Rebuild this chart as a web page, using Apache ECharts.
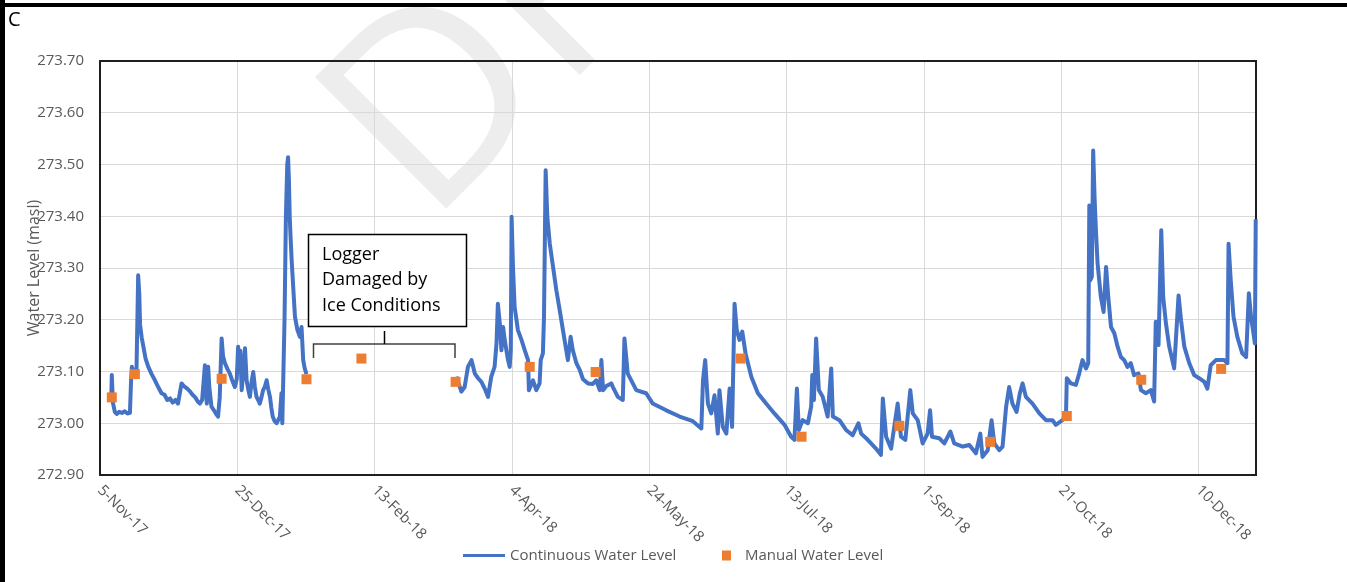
<!DOCTYPE html>
<html>
<head>
<meta charset="utf-8">
<script src="https://cdn.jsdelivr.net/npm/echarts@6/dist/echarts.min.js"></script>
<style>
  html, body { margin: 0; padding: 0; background: #ffffff; }
  #chart { width: 1347px; height: 582px; }
</style>
</head>
<body>
<div id="chart"></div>
<script>
// x values are days counted from 5-Nov-17
const tickLabels = ['5-Nov-17', '25-Dec-17', '13-Feb-18', '4-Apr-18', '24-May-18',
                    '13-Jul-18', '1-Sep-18', '21-Oct-18', '10-Dec-18'];
const tickStepDays = 50;
const lastDay = 421;                 // 31-Dec-18
const levelTicks = [272.9, 273.7, 0.1];

// Logger record, Nov-17 to Jan-18 (before the logger was damaged)
const loggerDaysA = [
  4.1, 4.3, 4.7, 5.4, 6.1, 7.0, 8.0, 9.0, 10.0, 10.9, 11.3, 11.6, 12.2, 12.8, 13.3, 13.9,
  14.3, 14.6, 15.2, 15.8, 16.6, 17.6, 18.8, 20.0, 21.2, 22.4, 23.5, 24.5, 25.5, 26.5, 27.5,
  28.4, 29.1, 29.7, 30.5, 31.5, 32.7, 33.7, 34.7, 35.6, 36.4, 37.2, 38.2, 38.6, 38.9, 39.4,
  39.8, 40.6, 41.5, 42.3, 43.0, 43.6, 44.3, 44.8, 45.5, 46.4, 47.3, 48.2, 49.1, 49.8, 50.3,
  50.7, 51.1, 51.6, 52.2, 52.8, 53.4, 54.0, 54.6, 55.2, 55.8, 56.4, 57.0, 57.6, 58.2, 58.8,
  59.4, 60.0, 60.7, 61.3, 61.9, 62.4, 62.9, 63.6, 64.3, 64.9, 65.5, 66.1, 66.4, 66.7, 67.2,
  67.7, 68.2, 68.5, 68.8, 69.1, 69.4, 69.8, 70.4, 71.0, 71.9, 72.8, 73.4, 74.0, 74.6, 75.2
];
const loggerLevelsA = [
  273.050, 273.093, 273.040, 273.022, 273.018, 273.022, 273.020, 273.023, 273.019, 273.020,
  273.080, 273.109, 273.100, 273.095, 273.105, 273.286, 273.250, 273.190, 273.165, 273.148,
  273.125, 273.109, 273.095, 273.083, 273.070, 273.058, 273.055, 273.045, 273.048, 273.040,
  273.045, 273.038, 273.040, 273.077, 273.072, 273.068, 273.062, 273.055, 273.050, 273.042,
  273.038, 273.045, 273.112, 273.060, 273.038, 273.109, 273.070, 273.032, 273.025, 273.018,
  273.013, 273.050, 273.164, 273.130, 273.116, 273.105, 273.096, 273.082, 273.070, 273.085,
  273.148, 273.100, 273.140, 273.064, 273.100, 273.145, 273.083, 273.065, 273.051, 273.080,
  273.099, 273.070, 273.051, 273.045, 273.038, 273.050, 273.064, 273.070, 273.083, 273.065,
  273.051, 273.030, 273.013, 273.004, 273.000, 273.006, 273.013, 273.058, 273.000, 273.000,
  273.200, 273.399, 273.500, 273.514, 273.470, 273.399, 273.360, 273.315, 273.260, 273.206,
  273.180, 273.167, 273.186, 273.122, 273.105, 273.095
];

// Logger record, Mar-18 to Dec-18 (after replacement)
const loggerDaysB = [
  129.8, 131.6, 132.8, 134.0, 135.3, 136.5, 137.7, 138.9, 140.1, 141.3, 142.5, 143.7, 144.4,
  144.9, 145.6, 146.2, 146.8, 147.4, 148.0, 148.6, 149.2, 149.6, 149.9, 150.4, 151.0, 152.2,
  153.5, 154.7, 155.9, 156.2, 157.7, 158.9, 160.1, 160.5, 161.3, 161.7, 162.3, 162.9, 163.8,
  165.0, 166.2, 167.4, 168.6, 169.8, 170.4, 171.4, 172.2, 173.5, 174.7, 175.9, 177.7, 179.5,
  180.7, 182.0, 182.6, 183.2, 184.4, 186.2, 186.8, 188.6, 190.4, 191.0, 192.2, 195.3, 198.9,
  201.3, 206.2, 211.1, 215.9, 219.0, 219.6, 220.4, 221.4, 222.6, 223.8, 225.0, 225.6, 226.8,
  228.1, 229.3, 230.2, 231.1, 231.9, 232.9, 233.9, 235.1, 237.2, 239.6, 242.6, 245.6, 249.3,
  251.7, 252.9, 253.8, 254.5, 255.9, 257.8, 259.0, 259.4, 260.0, 260.8, 261.8, 263.2, 265.0,
  266.3, 266.9, 269.3, 271.7, 274.1, 276.2, 277.2, 279.6, 282.6, 284.4, 285.1, 286.3, 288.1,
  290.5, 291.7, 293.3, 295.1, 296.0, 297.8, 299.6, 301.4, 302.3, 303.0, 305.7, 307.5, 309.7,
  311.1, 314.2, 316.6, 319.0, 320.6, 321.4, 323.3, 324.7, 325.7, 327.5, 328.7, 330.0, 331.1,
  332.3, 333.8, 335.0, 336.0, 337.2, 339.6, 342.1, 344.5, 346.9, 348.1, 350.5, 351.8, 352.1,
  353.6, 355.4, 356.6, 357.8, 359.1, 359.9, 360.3, 360.6, 361.2, 361.7, 362.2, 362.7, 363.3,
  364.5, 365.5, 366.4, 367.2, 368.2, 369.4, 370.6, 371.8, 373.0, 374.2, 375.4, 376.6, 378.2,
  379.1, 380.9, 382.7, 383.9, 384.5, 385.5, 386.5, 387.2, 388.2, 389.4, 391.2, 392.1, 392.8,
  393.7, 394.9, 396.7, 398.5, 400.3, 402.2, 403.3, 404.5, 406.4, 409.4, 410.6, 411.0, 411.8,
  412.8, 414.2, 416.0, 417.4, 418.4, 419.2, 420.6, 420.9
];
const loggerLevelsB = [
  273.090, 273.061, 273.070, 273.109, 273.122, 273.096, 273.087, 273.080, 273.067, 273.051,
  273.090, 273.109, 273.154, 273.231, 273.193, 273.141, 273.186, 273.161, 273.141, 273.122,
  273.109, 273.141, 273.399, 273.302, 273.225, 273.180, 273.161, 273.141, 273.122, 273.064,
  273.083, 273.064, 273.077, 273.122, 273.135, 273.206, 273.489, 273.399, 273.347, 273.302,
  273.257, 273.219, 273.180, 273.141, 273.122, 273.167, 273.141, 273.116, 273.103, 273.085,
  273.077, 273.076, 273.083, 273.064, 273.122, 273.064, 273.072, 273.077, 273.070, 273.051,
  273.045, 273.164, 273.096, 273.064, 273.058, 273.038, 273.025, 273.013, 273.004, 272.990,
  273.083, 273.122, 273.038, 273.019, 273.054, 272.980, 273.064, 272.993, 272.980, 273.067,
  272.993, 273.231, 273.180, 273.161, 273.177, 273.135, 273.090, 273.058, 273.038, 273.019,
  272.997, 272.974, 272.968, 273.067, 272.987, 273.006, 273.000, 273.032, 273.093, 273.045,
  273.164, 273.064, 273.051, 273.013, 273.106, 273.013, 273.006, 272.987, 272.977, 273.000,
  272.980, 272.968, 272.951, 272.939, 273.048, 272.974, 272.951, 273.038, 272.974, 272.968,
  273.064, 273.019, 273.006, 272.961, 272.980, 273.025, 272.974, 272.971, 272.961, 272.984,
  272.961, 272.955, 272.958, 272.942, 272.980, 272.935, 272.948, 273.006, 272.961, 272.948,
  272.955, 273.032, 273.070, 273.038, 273.022, 273.058, 273.077, 273.051, 273.038, 273.019,
  273.006, 273.006, 272.997, 273.006, 273.016, 273.087, 273.077, 273.074, 273.096, 273.122,
  273.106, 273.116, 273.421, 273.276, 273.283, 273.527, 273.437, 273.373, 273.309, 273.244,
  273.215, 273.302, 273.244, 273.186, 273.174, 273.148, 273.128, 273.122, 273.109, 273.116,
  273.093, 273.096, 273.064, 273.058, 273.064, 273.042, 273.196, 273.151, 273.373, 273.244,
  273.193, 273.148, 273.106, 273.186, 273.247, 273.199, 273.148, 273.116, 273.093, 273.087,
  273.080, 273.067, 273.112, 273.122, 273.122, 273.116, 273.347, 273.276, 273.206, 273.167,
  273.135, 273.128, 273.251, 273.206, 273.154, 273.394
];

// Manual water level readings
const manualDays = [4.3, 12.7, 44.3, 75.2, 95.2, 129.5, 156.5, 180.5, 233.3, 255.5,
                    291.1, 324.2, 352.1, 379.2, 408.3];
const manualLevels = [273.050, 273.095, 273.086, 273.085, 273.125, 273.080, 273.109, 273.099,
                      273.125, 272.974, 272.995, 272.964, 273.014, 273.084, 273.105];

const gapDay = 100; // no logger data while the logger was damaged

const pair = (xs, ys) => xs.map((x, i) => [x, ys[i]]);
const continuousData = pair(loggerDaysA, loggerLevelsA)
  .concat([[gapDay, null]])
  .concat(pair(loggerDaysB, loggerLevelsB));
const manualData = pair(manualDays, manualLevels);

const FONT = '"Open Sans", "Noto Sans", sans-serif';
const GREY_TEXT = '#595959';

const chart = echarts.init(document.getElementById('chart'), null, { renderer: 'canvas' });

chart.setOption({
  animation: false,
  backgroundColor: '#ffffff',
  textStyle: { fontFamily: FONT },
  grid: {
    left: 100, right: 91, top: 61, bottom: 107,
    show: true, borderColor: '#1f1f1f', borderWidth: 2, backgroundColor: 'transparent',
    z: 3
  },
  xAxis: {
    type: 'value',
    min: 0, max: lastDay, interval: tickStepDays,
    axisLine: { show: false },
    axisTick: { show: false },
    splitLine: { show: true, lineStyle: { color: '#d9d9d9', width: 1 } },
    axisLabel: {
      rotate: -45, margin: 13, color: GREY_TEXT, fontSize: 15, fontFamily: FONT,
      showMaxLabel: false,
      formatter: v => {
        const i = Math.round(v / tickStepDays);
        return Math.abs(i * tickStepDays - v) < 1e-6 && tickLabels[i] ? tickLabels[i] : '';
      }
    }
  },
  yAxis: {
    type: 'value',
    min: levelTicks[0], max: levelTicks[1], interval: levelTicks[2],
    name: 'Water Level (masl)', nameLocation: 'middle', nameGap: 58,
    nameMoveOverlap: false,
    nameTextStyle: { color: GREY_TEXT, fontSize: 16, fontFamily: FONT },
    axisLine: { show: false },
    axisTick: { show: false },
    splitLine: { show: true, lineStyle: { color: '#d9d9d9', width: 1 } },
    axisLabel: { margin: 16, color: GREY_TEXT, fontSize: 15, fontFamily: FONT,
                 formatter: v => v.toFixed(2) }
  },
  legend: [
    {
      data: ['Continuous Water Level'], left: 458, top: 543,
      icon: 'rect', itemWidth: 42, itemHeight: 3, itemGap: 0,
      textStyle: { color: GREY_TEXT, fontSize: 15, fontFamily: FONT }
    },
    {
      data: ['Manual Water Level'], left: 717, top: 543,
      icon: 'rect', itemWidth: 9, itemHeight: 10, itemGap: 0,
      itemStyle: { opacity: 1 },
      textStyle: { color: GREY_TEXT, fontSize: 15, fontFamily: FONT, padding: [0, 0, 0, 9] }
    }
  ],
  series: [
    {
      name: 'Continuous Water Level',
      type: 'line',
      data: continuousData,
      showSymbol: false,
      connectNulls: false,
      lineStyle: { color: '#4472c4', width: 4, join: 'round' },
      itemStyle: { color: '#4472c4' },
      z: 4
    },
    {
      name: 'Manual Water Level',
      type: 'scatter',
      data: manualData,
      symbol: 'rect',
      symbolSize: 10,
      itemStyle: { color: '#ed7d31', opacity: 1 },
      z: 5
    }
  ],
  graphic: [
    // faint DRAFT stamp
    {
      type: 'text', x: 376, y: 174, rotation: Math.PI / 4, z: -10, silent: true,
      style: { text: 'DRAFT', fill: '#ededed', font: '260px "Open Sans", sans-serif',
               align: 'left', verticalAlign: 'middle' }
    },
    // page frame
    { type: 'rect', shape: { x: 0, y: 3, width: 1347, height: 4 }, style: { fill: '#000000' }, z: 20 },
    { type: 'rect', shape: { x: 0, y: 0, width: 5, height: 582 }, style: { fill: '#000000' }, z: 20 },
    {
      type: 'text', x: 8, y: 10, z: 20,
      style: { text: 'C', fill: '#000000', font: '20px "Open Sans", sans-serif',
               align: 'left', verticalAlign: 'top' }
    },
    // callout for the missing logger period
    {
      type: 'rect', z: 30,
      shape: { x: 308.5, y: 234.5, width: 158, height: 92 },
      style: { fill: '#ffffff', stroke: '#000000', lineWidth: 1.5 }
    },
    {
      type: 'text', x: 322, y: 242, z: 31,
      style: { text: 'Logger\nDamaged by\nIce Conditions', fill: '#000000',
               font: '18px "Open Sans", sans-serif', lineHeight: 25.5,
               align: 'left', verticalAlign: 'top' }
    },
    {
      type: 'polyline', z: 30,
      shape: { points: [[313.5, 358], [313.5, 344], [455, 344], [455, 358]] },
      style: { stroke: '#404040', lineWidth: 1.5, fill: null }
    },
    {
      type: 'line', z: 30,
      shape: { x1: 384.5, y1: 331, x2: 384.5, y2: 344 },
      style: { stroke: '#000000', lineWidth: 1.5 }
    }
  ]
});
</script>
</body>
</html>
